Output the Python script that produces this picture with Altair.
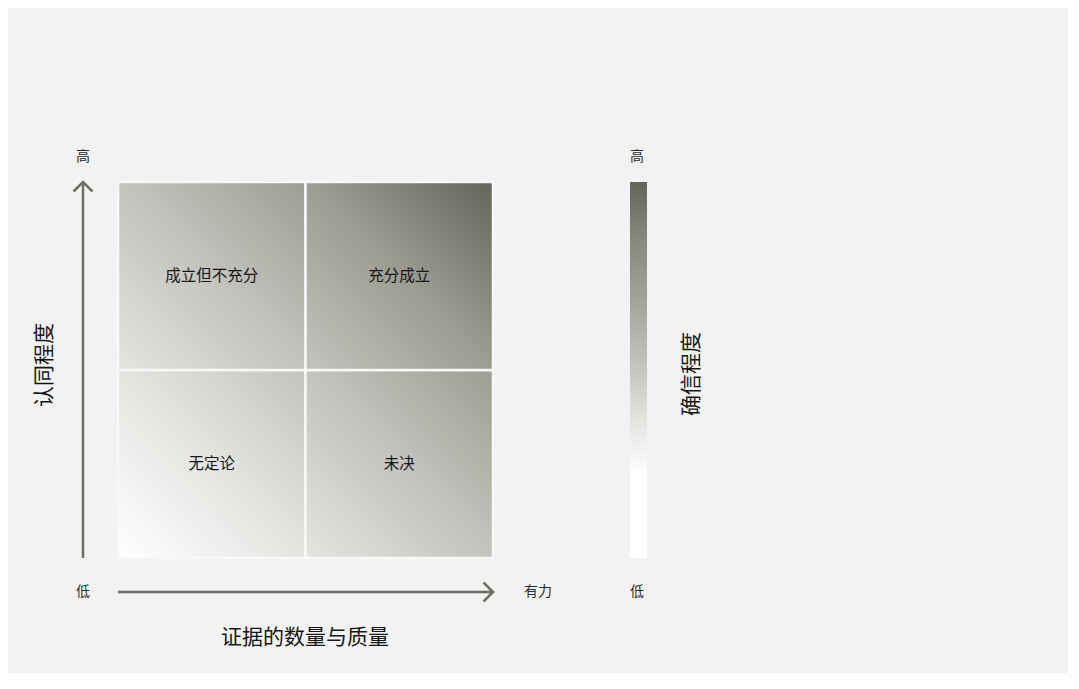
import altair as alt
import pandas as pd

# ---- data ----
quadrant_labels = ["无定论", "未决", "成立但不充分", "充分成立"]
evidence_level = [0, 1, 0, 1]      # 0 = 低, 1 = 有力
agreement_level = [0, 0, 1, 1]     # 0 = 低, 1 = 高
x_axis_title = "证据的数量与质量"
y_axis_title = "认同程度"
legend_title = "确信程度"
x_end_labels = ["低", "有力"]
y_end_labels = ["低", "高"]
legend_end_labels = ["低", "高"]

# ---- styles ----
FONT = "Noto Sans CJK SC"
BG = "#f2f2f2"
ARROW = "#6c6f62"
TEXT = "#161616"
grid_ramp = ["#ffffff", "#e4e4e1", "#c4c4be", "#9c9d93", "#62665a"]  # t = 0, .25, .5, .75, 1
legend_offsets = [0, 0.22, 0.36, 0.5, 0.67, 0.85, 1]
legend_colors = ["#ffffff", "#ffffff", "#e5e5e2", "#c6c6c0", "#a6a69d", "#86887c", "#62665a"]

W, H = 375, 376
xs = alt.Scale(domain=[0, 2], nice=False, zero=False)
ys = alt.Scale(domain=[0, 2], nice=False, zero=False)

layers = []

# quadrant cells
for lab, ev, ag in zip(quadrant_labels, evidence_level, agreement_level):
    k = ev + ag
    grad = alt.Gradient(
        gradient="linear",
        stops=[alt.GradientStop(offset=0, color=grid_ramp[k]),
               alt.GradientStop(offset=0.5, color=grid_ramp[k + 1]),
               alt.GradientStop(offset=1, color=grid_ramp[k + 2])],
        x1=0, y1=1, x2=1, y2=0)
    df = pd.DataFrame({"x0": [ev], "x1": [ev + 1], "y0": [ag], "y1": [ag + 1],
                       "xc": [ev + 0.5], "yc": [ag + 0.5], "label": [lab]})
    layers.append(alt.Chart(df).mark_rect(fill=grad, stroke="#f8f8f8", strokeWidth=2.5).encode(
        x=alt.X("x0:Q", scale=xs, axis=None), x2="x1:Q",
        y=alt.Y("y0:Q", scale=ys, axis=None), y2="y1:Q"))
    layers.append(alt.Chart(df).mark_text(font=FONT, fontSize=15.5, color=TEXT).encode(
        x=alt.X("xc:Q", scale=xs, axis=None),
        y=alt.Y("yc:Q", scale=ys, axis=None),
        text="label:N"))

# axis arrows
xarrow = pd.DataFrame({"a": [0], "b": [2]})
layers.append(alt.Chart(xarrow).mark_rule(color=ARROW, strokeWidth=2.5).encode(
    x=alt.X("a:Q", scale=xs, axis=None), x2="b:Q", y=alt.value(410)))
layers.append(alt.Chart(xarrow).mark_rule(color=ARROW, strokeWidth=2.5).encode(
    y=alt.Y("a:Q", scale=ys, axis=None), y2="b:Q", x=alt.value(-35)))
layers.append(alt.Chart(xarrow).mark_point(shape="M -1 -1 L 0 0 L -1 1", filled=False, size=361,
                                            strokeWidth=2.5, color=ARROW, opacity=1).encode(
    x=alt.X("b:Q", scale=xs, axis=None), y=alt.value(410)))
layers.append(alt.Chart(xarrow).mark_point(shape="M -1 1 L 0 0 L 1 1", filled=False, size=361,
                                            strokeWidth=2.5, color=ARROW, opacity=1).encode(
    y=alt.Y("b:Q", scale=ys, axis=None), x=alt.value(-35)))

# legend colour bar
legend_grad = alt.Gradient(
    gradient="linear",
    stops=[alt.GradientStop(offset=o, color=c) for o, c in zip(legend_offsets, legend_colors)],
    x1=0, y1=1, x2=0, y2=0)
layers.append(alt.Chart(xarrow).mark_rect(fill=legend_grad).encode(
    x=alt.value(512), x2=alt.value(529),
    y=alt.Y("a:Q", scale=ys, axis=None), y2="b:Q"))


def label(text, x, y, size, angle=0, color=TEXT):
    return alt.Chart(pd.DataFrame({"t": [text]})).mark_text(
        font=FONT, fontSize=size, color=color, angle=angle,
        align="center", baseline="middle").encode(
        text="t:N", x=alt.value(x), y=alt.value(y))


layers += [
    label(y_end_labels[1], -35, -25, 14, color="#2a2a2a"),
    label(y_end_labels[0], -35, 410, 14, color="#2a2a2a"),
    label(x_end_labels[1], 420, 410, 14, color="#2a2a2a"),
    label(legend_end_labels[1], 519, -25, 14, color="#2a2a2a"),
    label(legend_end_labels[0], 519, 410, 14, color="#2a2a2a"),
    label(y_axis_title, -73, 183, 21, angle=270),
    label(x_axis_title, 187, 456, 21),
    label(legend_title, 574, 192, 21, angle=270),
]

chart = alt.layer(*layers).properties(
    width=W, height=H,
    autosize=alt.AutoSizeParams(type="none"),
    padding={"left": 110, "top": 174, "right": 575, "bottom": 115},
    background=BG,
).configure_view(stroke=None)

chart.save("out.html", embed_options={"renderer": "svg", "actions": False})
